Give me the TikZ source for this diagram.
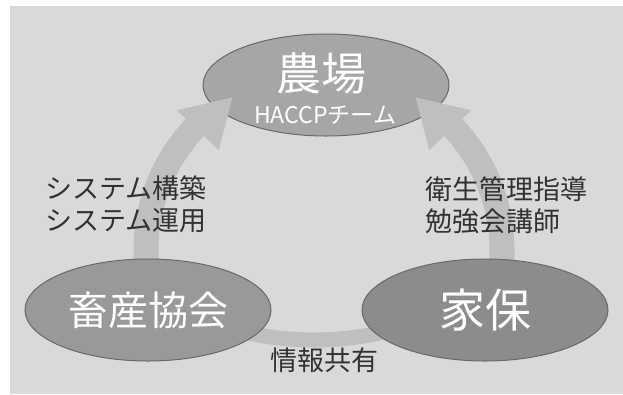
\documentclass[tikz,border=0pt]{standalone}
\usepackage{fontspec}
\setmainfont{Noto Sans CJK JP}
\usetikzlibrary{calc,shapes.geometric}
\definecolor{bgc}{RGB}{217,217,217}
\definecolor{ringc}{RGB}{191,191,191}
\definecolor{farmc}{RGB}{166,166,166}
\definecolor{assocc}{RGB}{153,153,153}
\definecolor{kahoc}{RGB}{140,140,140}
\definecolor{edgec}{RGB}{105,105,105}
\definecolor{txtc}{RGB}{50,50,50}
\tikzset{
  blob/.style={ellipse, draw=edgec, line width=1pt, minimum width=246pt, minimum height=102pt, inner sep=0pt, text=white},
  ringband/.style={draw=ringc, line width=25pt},
  ringbandthin/.style={draw=ringc, line width=15pt},
  ringtip/.style={fill=ringc},
  lbl/.style={text=txtc, inner sep=0pt, font=\fontsize{27}{32}\selectfont, align=left}
}
\begin{document}
\begin{tikzpicture}[x=1pt,y=-1pt]
\useasboundingbox (0,0) rectangle (623,394);
\fill[bgc] (10,6) rectangle (623,394);
% ring centres
\coordinate (rc) at (324,250);
\coordinate (bc) at (314,31);
% top ellipse
\node[blob, fill=farmc] (farm) at (326,85) {};
\node[text=white, inner sep=0pt, font=\fontsize{45}{50}\selectfont] (farmt) at (321,73) {農場};
\node[text=white, inner sep=0pt, font=\fontsize{23}{26}\selectfont] (farms) at (325,115) {HACCPチーム};
% left arrow
\draw[ringband] ($(rc)+(158:178)$) arc[start angle=158, end angle=224, radius=178];
\fill[ringtip] ($(rc)+(223.5:203)$) coordinate (lb1) -- ($(rc)+(239:178)$) coordinate (ltip) -- ($(rc)+(223.5:145)$) coordinate (lb2) -- cycle;
% right arrow
\draw[ringband] ($(rc)+(22:178)$) arc[start angle=22, end angle=-44, radius=178];
\fill[ringtip] ($(rc)+(316.5:203)$) coordinate (rb1) -- ($(rc)+(301:178)$) coordinate (rtip) -- ($(rc)+(316.5:145)$) coordinate (rb2) -- cycle;
% bottom band
\draw[ringbandthin] ($(bc)+(118:309)$) arc[start angle=118, end angle=62, radius=309];
% lower ellipses
\node[blob, fill=assocc, font=\fontsize{40}{46}\selectfont] (assoc) at (148,310) {畜産協会};
\node[blob, fill=kahoc, font=\fontsize{46}{52}\selectfont] (kaho) at (485,310) {家保};
% labels
\node[lbl, anchor=west] (lefttxt) at (45,204) {システム構築\\システム運用};
\node[lbl, anchor=west] (righttxt) at (425,205) {衛生管理指導\\勉強会講師};
\node[lbl] (bottxt) at (324,360) {情報共有};
\end{tikzpicture}
\end{document}
